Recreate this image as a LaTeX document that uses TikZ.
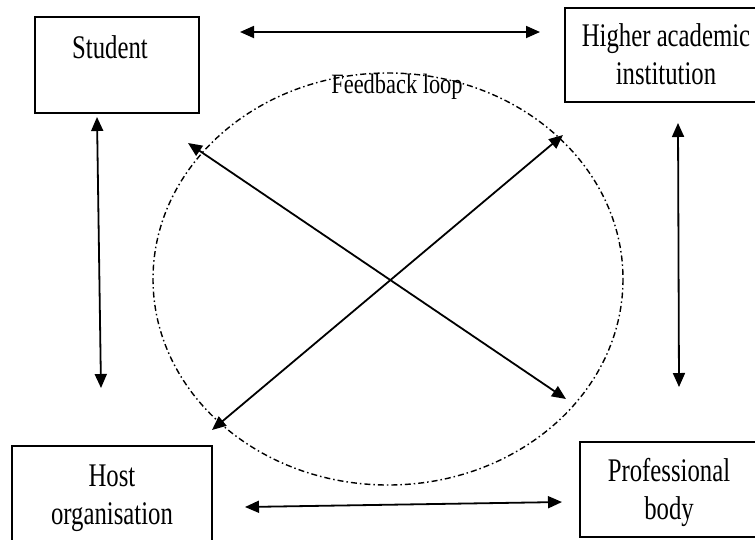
\documentclass[tikz,border=0pt]{standalone}
\usepackage{fontspec}
\setmainfont{Liberation Serif}
\usetikzlibrary{arrows.meta}
\newcommand\narrow[1]{\scalebox{0.75}[1]{\begin{tabular}{@{}c@{}}#1\end{tabular}}}
\begin{document}
\begin{tikzpicture}[x=1pt,y=-1pt,
  box/.style={draw,line width=1.5pt},
  lbl/.style={inner sep=0pt,font=\fontsize{33}{38}\selectfont},
  link/.style={line width=1.8pt,{Triangle[length=14pt,width=12pt]}-{Triangle[length=14pt,width=12pt]}},
  loop/.style={line width=1.4pt,dash pattern=on 6pt off 3pt on 1.5pt off 3pt}]
\useasboundingbox (0,0) rectangle (755,539);

% the four parties
\draw[box] (35,17) rectangle (199,113);
\draw[box] (565,8) rectangle (758,102);
\draw[box] (12,446) rectangle (212,545);
\draw[box] (580,442) rectangle (758,537);

\node[lbl,anchor=base] (student) at (110,57) {\narrow{Student}};
\node[lbl] (hei) at (666,58) {\narrow{Higher academic\\institution}};
\node[lbl] (host) at (112,498) {\narrow{Host\\organisation}};
\node[lbl] (prof) at (669,493) {\narrow{Professional\\body}};

% feedback loop
\draw[loop] (388,279) ellipse [x radius=235, y radius=206];
\node[inner sep=0pt,anchor=base,font=\fontsize{28}{32}\selectfont] (fb) at (397,93) {\scalebox{0.8}[1]{Feedback loop}};

% arrow end points
\coordinate (sR) at (240,32);
\coordinate (hL) at (540,32);
\coordinate (oR) at (245,507);
\coordinate (pL) at (562,502);
\coordinate (sD) at (97,117);
\coordinate (oU) at (101,388);
\coordinate (hD) at (678,123);
\coordinate (pU) at (679,387);
\coordinate (sX) at (188,143);
\coordinate (pX) at (566,399);
\coordinate (hX) at (563,135);
\coordinate (oX) at (212,430);

\draw[link] (sR) -- (hL);
\draw[link] (oR) -- (pL);
\draw[link] (sD) -- (oU);
\draw[link] (hD) -- (pU);
\draw[link] (sX) -- (pX);
\draw[link] (hX) -- (oX);
\end{tikzpicture}
\end{document}
